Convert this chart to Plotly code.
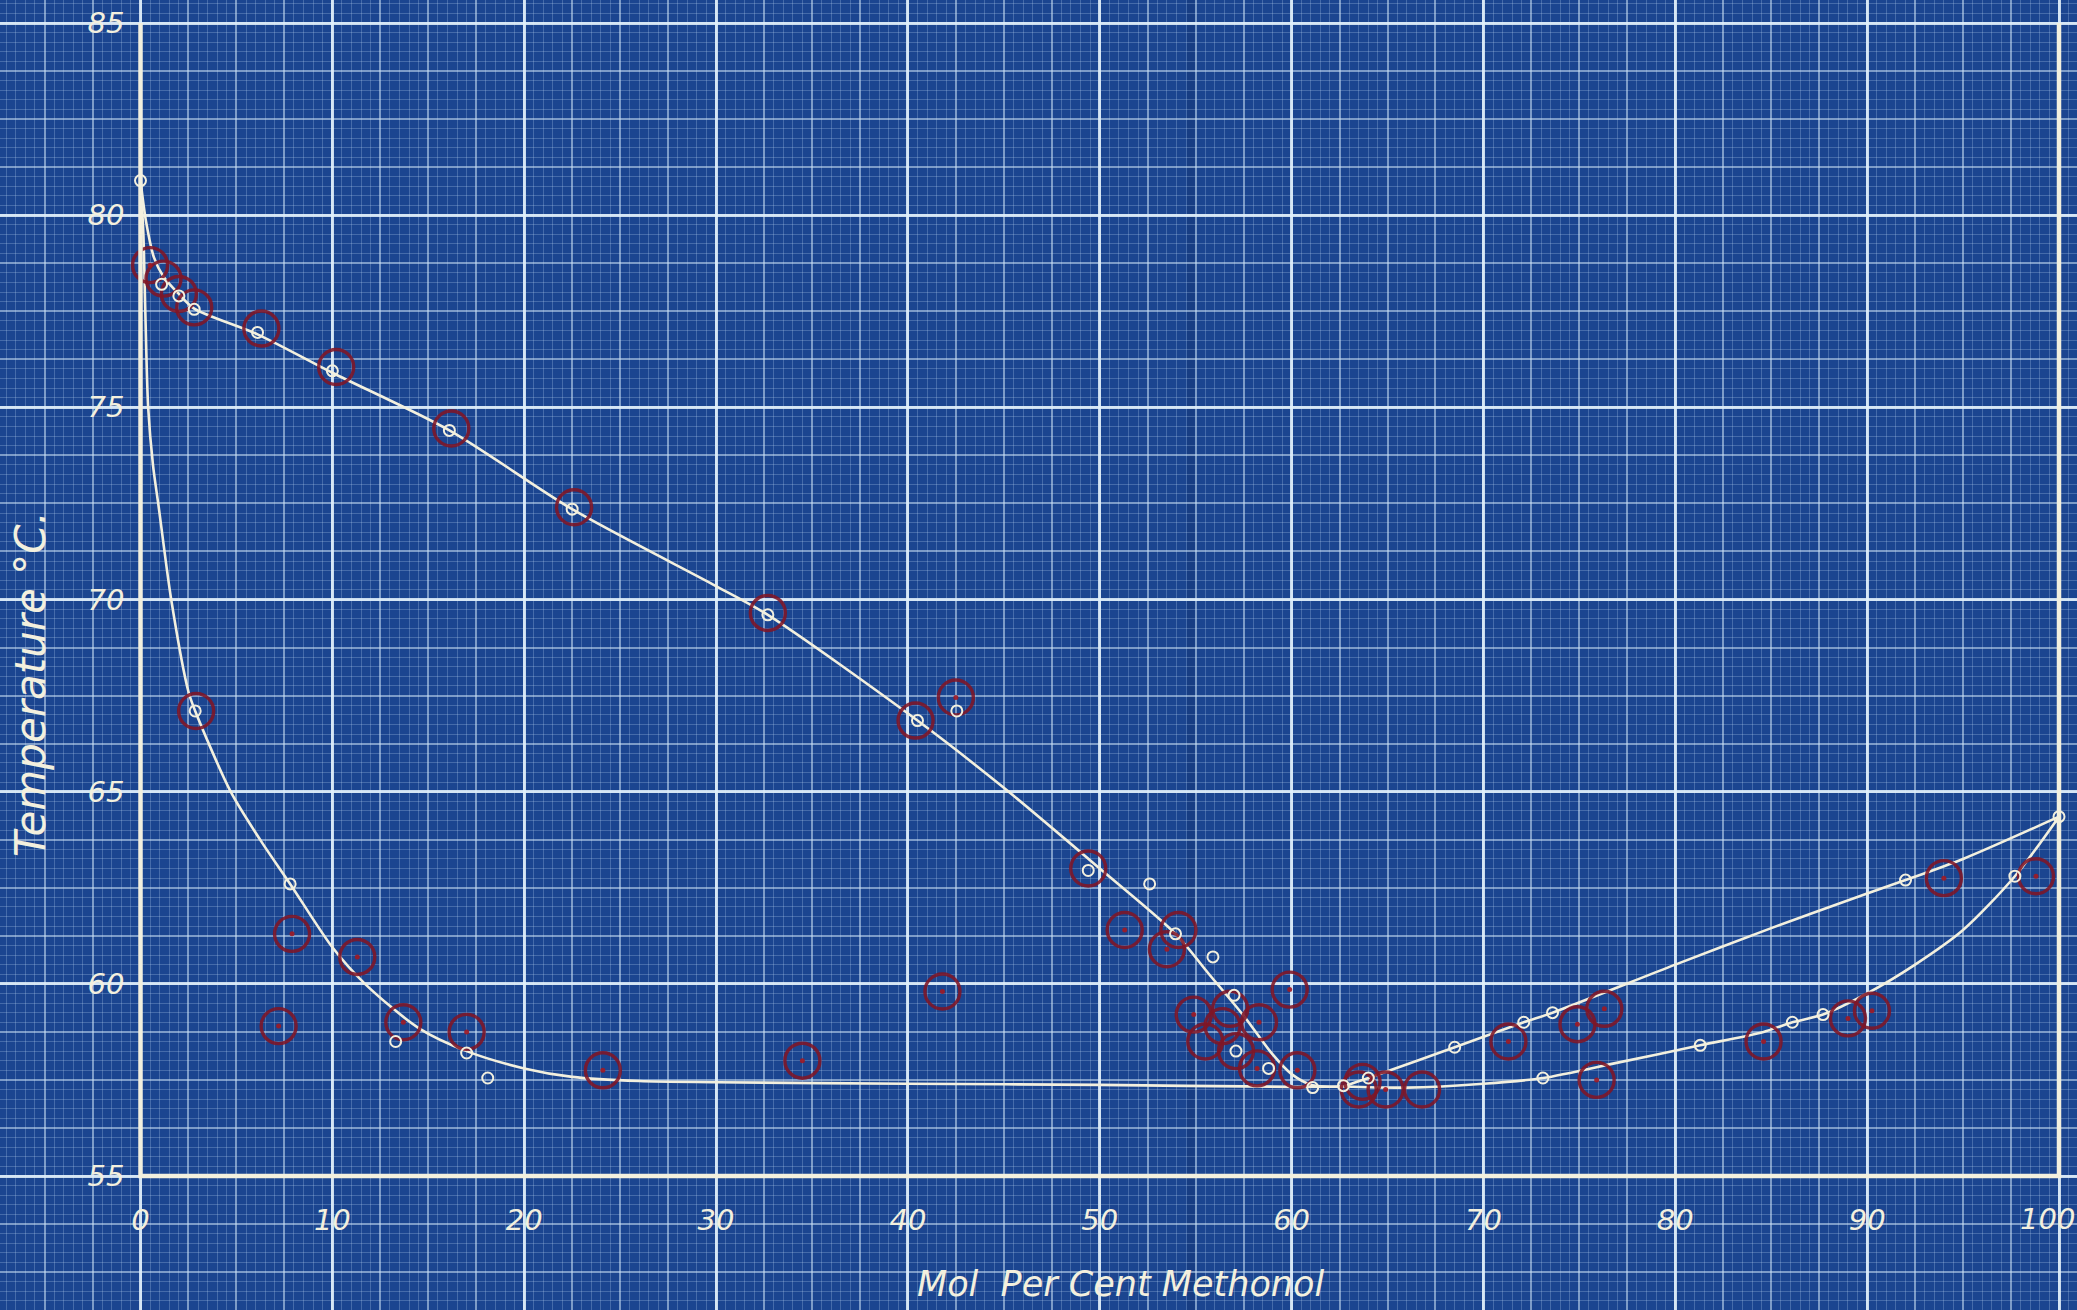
import plotly.graph_objects as go

# ---- axis limits of the drawing (mol % methanol, temperature °C) ----
X_MIN, X_MAX = 0, 100
T_MIN, T_MAX = 55, 85
X_TICKS = [0, 10, 20, 30, 40, 50, 60, 70, 80, 90]   # 100 is lettered at the sheet edge
T_TICKS = [55, 60, 65, 70, 75, 80, 85]
FOLD_X = 55  # the sheet was folded along this rule

# ---- smoothed boiling curves ----
vap_left_x = [0, 0.3, 0.7, 1.2, 2.0, 2.8, 6.1, 10.0, 16.1, 22.5, 30.0, 32.7, 40.5, 45.0,
              50.0, 53.95, 55.7, 57.5, 59.0, 60.0, 61.1, 62.7]
vap_left_t = [80.9, 79.8, 78.9, 78.4, 77.95, 77.57, 76.9, 75.9, 74.4, 72.35, 70.35, 69.6, 66.85, 65.1,
              63.0, 61.3, 60.25, 59.17, 58.17, 57.65, 57.36, 57.33]

liq_left_x = [0, 0.15, 0.25, 0.4, 0.65, 0.95, 1.6, 2.5, 2.85, 4.7, 6.3, 7.8, 10.0, 11.7, 14.5,
              17.0, 20.0, 22.5, 26.0, 30.0, 40.0, 50.0, 60.0, 62.7]
liq_left_t = [80.9, 79.5, 77.5, 75.0, 73.5, 72.4, 70.0, 67.6, 67.1, 65.0, 63.7, 62.6, 60.95, 60.0, 58.85,
              58.25, 57.8, 57.58, 57.47, 57.44, 57.4, 57.37, 57.32, 57.33]

vap_right_x = [62.7, 64.0, 68.5, 72.1, 73.6, 80.0, 85.0, 90.0, 92.0, 95.0, 100.0]
vap_right_t = [57.33, 57.55, 58.35, 59.0, 59.25, 60.5, 61.45, 62.35, 62.7, 63.25, 64.35]

liq_right_x = [62.7, 66.0, 70.0, 73.1, 77.0, 81.3, 84.6, 86.1, 87.7, 90.0, 92.5, 95.0, 97.7, 100.0]
liq_right_t = [57.33, 57.3, 57.4, 57.55, 57.95, 58.4, 58.75, 59.0, 59.2, 59.75, 60.5, 61.4, 62.8, 64.35]

# ---- observed points (small open circles) ----
obs_vap_x = [0, 1.1, 2.0, 2.8, 6.1, 10.0, 16.1, 22.5, 32.7, 40.5, 42.55, 49.4, 52.6, 53.95,
             55.9, 57.0, 57.1, 58.8, 61.1, 62.7, 64.0, 68.5, 72.1, 73.6, 92.0, 100.0]
obs_vap_t = [80.9, 78.2, 77.9, 77.55, 76.95, 75.95, 74.4, 72.35, 69.6, 66.85, 67.1, 62.95, 62.6, 61.3,
             60.7, 59.7, 58.25, 57.8, 57.3, 57.35, 57.55, 58.35, 59.0, 59.25, 62.7, 64.35]
obs_liq_x = [2.85, 7.8, 13.3, 17.0, 18.1, 73.1, 81.3, 86.1, 87.7, 97.7]
obs_liq_t = [67.1, 62.6, 58.5, 58.2, 57.55, 57.55, 58.4, 59.0, 59.2, 62.8]

# ---- check points ringed in red pencil ----
ring_x = [0.5, 1.2, 2.0, 2.8, 6.3, 10.2, 16.2, 22.6, 32.7, 40.4, 42.5, 49.4, 51.3, 54.1, 53.5,
          59.9, 54.9, 56.8, 58.3, 55.5, 56.4, 57.1, 58.2, 60.3, 63.5, 63.7, 64.9, 66.8, 71.3,
          74.9, 76.3, 75.9, 84.6, 89.0, 90.25, 94.0, 98.8, 2.9, 7.9, 11.3, 7.2, 13.7, 17.0,
          24.1, 34.5, 41.8]
ring_t = [78.7, 78.35, 77.95, 77.6, 77.05, 76.05, 74.45, 72.4, 69.65, 66.85, 67.45, 63.0, 61.4, 61.4, 60.9,
          59.85, 59.2, 59.35, 59.0, 58.5, 58.9, 58.25, 57.8, 57.75, 57.25, 57.45, 57.25, 57.25, 58.5,
          58.95, 59.35, 57.5, 58.5, 59.1, 59.3, 62.75, 62.8, 67.1, 61.3, 60.7, 58.9, 59.0, 58.75,
          57.75, 58.0, 59.8]
dot_x = [0.5, 42.5, 51.3, 53.5, 59.9, 54.9, 58.3, 58.2, 60.3, 64.9, 71.3, 74.9, 76.3, 75.9, 84.6,
         89.0, 90.25, 94.0, 98.8, 7.9, 11.3, 7.2, 13.7, 17.0, 24.1, 34.5, 41.8]
dot_t = [78.7, 67.45, 61.4, 60.9, 59.85, 59.2, 59.0, 57.8, 57.75, 57.25, 58.5, 58.95, 59.35, 57.5, 58.5,
         59.1, 59.3, 62.75, 62.8, 61.3, 60.7, 58.9, 59.0, 58.75, 57.75, 58.0, 59.8]

# ---- page geometry: the graph paper fills the whole page ----
W, H = 2077, 1310
PX_X0, PX_X100 = 140.5, 2059.0      # pixel columns of x = 0 and x = 100
PX_T85, PX_T55 = 23.0, 1176.0        # pixel rows of T = 85 and T = 55
ux = (PX_X100 - PX_X0) / (X_MAX - X_MIN)
ut = (PX_T55 - PX_T85) / (T_MAX - T_MIN)
x_range = [X_MIN - PX_X0 / ux, X_MIN + (W - PX_X0) / ux]
t_range = [T_MIN - (H - PX_T55) / ut, T_MIN + PX_T55 / ut]
LABEL_ROW = 1219.0                   # pixel row of the x tick lettering

BG = "#1b4590"
INK = "#f3f0de"
RED = "rgba(128,22,38,0.88)"
FONT = dict(family="DejaVu Sans", color=INK)
TICK_FONT = dict(size=29, style="italic", **FONT)

fig = go.Figure()

curve_style = dict(color=INK, width=2.6, shape="spline", smoothing=0.8)
for cx, ct in [(vap_left_x, vap_left_t), (liq_left_x, liq_left_t),
               (vap_right_x, vap_right_t), (liq_right_x, liq_right_t)]:
    fig.add_trace(go.Scatter(x=cx, y=ct, mode="lines", line=curve_style,
                             hoverinfo="skip", showlegend=False))

fig.add_trace(go.Scatter(x=ring_x, y=ring_t, mode="markers", showlegend=False,
                         marker=dict(symbol="circle-open", size=35, color=RED,
                                     line=dict(width=3.4, color=RED))))
fig.add_trace(go.Scatter(x=dot_x, y=dot_t, mode="markers", showlegend=False,
                         marker=dict(symbol="circle", size=5, color="rgba(160,25,35,0.9)")))
fig.add_trace(go.Scatter(x=obs_vap_x + obs_liq_x, y=obs_vap_t + obs_liq_t, mode="markers",
                         showlegend=False,
                         marker=dict(symbol="circle-open", size=11, color=INK,
                                     line=dict(width=2, color=INK))))

# heavy inked frame: left, bottom and right borders
fig.add_trace(go.Scatter(x=[X_MIN, X_MIN, X_MAX, X_MAX], y=[T_MAX, T_MIN, T_MIN, T_MAX],
                         mode="lines", line=dict(color=INK, width=4.5),
                         xaxis="x2", yaxis="y2", hoverinfo="skip", showlegend=False))

fine = "rgba(185,212,240,0.27)"
medium = "rgba(205,228,246,0.55)"
major = "rgba(225,240,250,0.88)"

fig.update_layout(
    width=W, height=H,
    margin=dict(l=0, r=0, t=0, b=0, autoexpand=False),
    paper_bgcolor=BG, plot_bgcolor=BG,
    showlegend=False,
    xaxis=dict(range=x_range, tick0=0, dtick=2.5, showgrid=True, gridcolor=medium,
               gridwidth=1.6, zeroline=False, showline=False, showticklabels=False,
               ticks="", automargin=False,
               minor=dict(tick0=0, dtick=0.5, showgrid=True, gridcolor=fine, gridwidth=1)),
    yaxis=dict(range=t_range, tick0=T_MIN, dtick=1.25, showgrid=True, gridcolor=medium,
               gridwidth=1.6, zeroline=False, showline=False, showticklabels=False,
               ticks="", automargin=False,
               minor=dict(tick0=T_MIN, dtick=0.25, showgrid=True, gridcolor=fine, gridwidth=1)),
    xaxis2=dict(overlaying="x", range=x_range, anchor="free",
                position=(H - PX_T55) / H, side="bottom", automargin=False,
                tickmode="linear", tick0=0, dtick=10,
                showgrid=True, gridcolor=major, gridwidth=2.6, zeroline=False,
                showline=False, ticks="", showticklabels=False),
    # lettering of the x scale on its own axis so that only the listed values are written
    xaxis3=dict(overlaying="x", range=x_range, anchor="free",
                position=(H - PX_T55) / H, side="bottom", automargin=False,
                tickmode="array", tickvals=X_TICKS, ticktext=[str(v) for v in X_TICKS],
                showgrid=False, zeroline=False, showline=False, ticks="",
                ticklabelstandoff=24, tickfont=TICK_FONT),
    yaxis2=dict(overlaying="y", range=t_range, anchor="free",
                position=PX_X0 / W, side="left", automargin=False,
                tickmode="array", tickvals=T_TICKS, ticktext=[str(v) for v in T_TICKS],
                showgrid=True, gridcolor=major, gridwidth=2.6, zeroline=False,
                showline=False, ticks="", ticklabelstandoff=16, ticklabeloverflow="allow",
                tickfont=TICK_FONT),
    shapes=[
        # faint shadow of the fold running down the sheet
        dict(type="rect", xref="x", yref="paper", x0=FOLD_X - 0.45, x1=FOLD_X - 0.05,
             y0=0, y1=1, fillcolor="rgba(8,24,70,0.16)", line=dict(width=0), layer="below"),
    ],
    annotations=[
        dict(text=str(X_MAX), xref="paper", yref="paper",
             x=1.0, y=(H - LABEL_ROW) / H, xanchor="right", yanchor="middle",
             showarrow=False, font=TICK_FONT),
        dict(text="Temperature °C.", xref="paper", yref="paper",
             x=30 / W, y=(H - 684) / H, xanchor="center", yanchor="middle",
             textangle=-90, showarrow=False,
             font=dict(size=42, style="italic", **FONT)),
        dict(text="Mol  Per Cent Methonol", xref="paper", yref="paper",
             x=1120 / W, y=(H - 1284) / H, xanchor="center", yanchor="middle",
             showarrow=False,
             font=dict(size=35, style="italic", **FONT)),
    ],
)

# the lettering axis needs a trace to exist; an empty one is enough
fig.add_trace(go.Scatter(x=[], y=[], xaxis="x3", yaxis="y2", showlegend=False, hoverinfo="skip"))

fig.write_html("out.html")
